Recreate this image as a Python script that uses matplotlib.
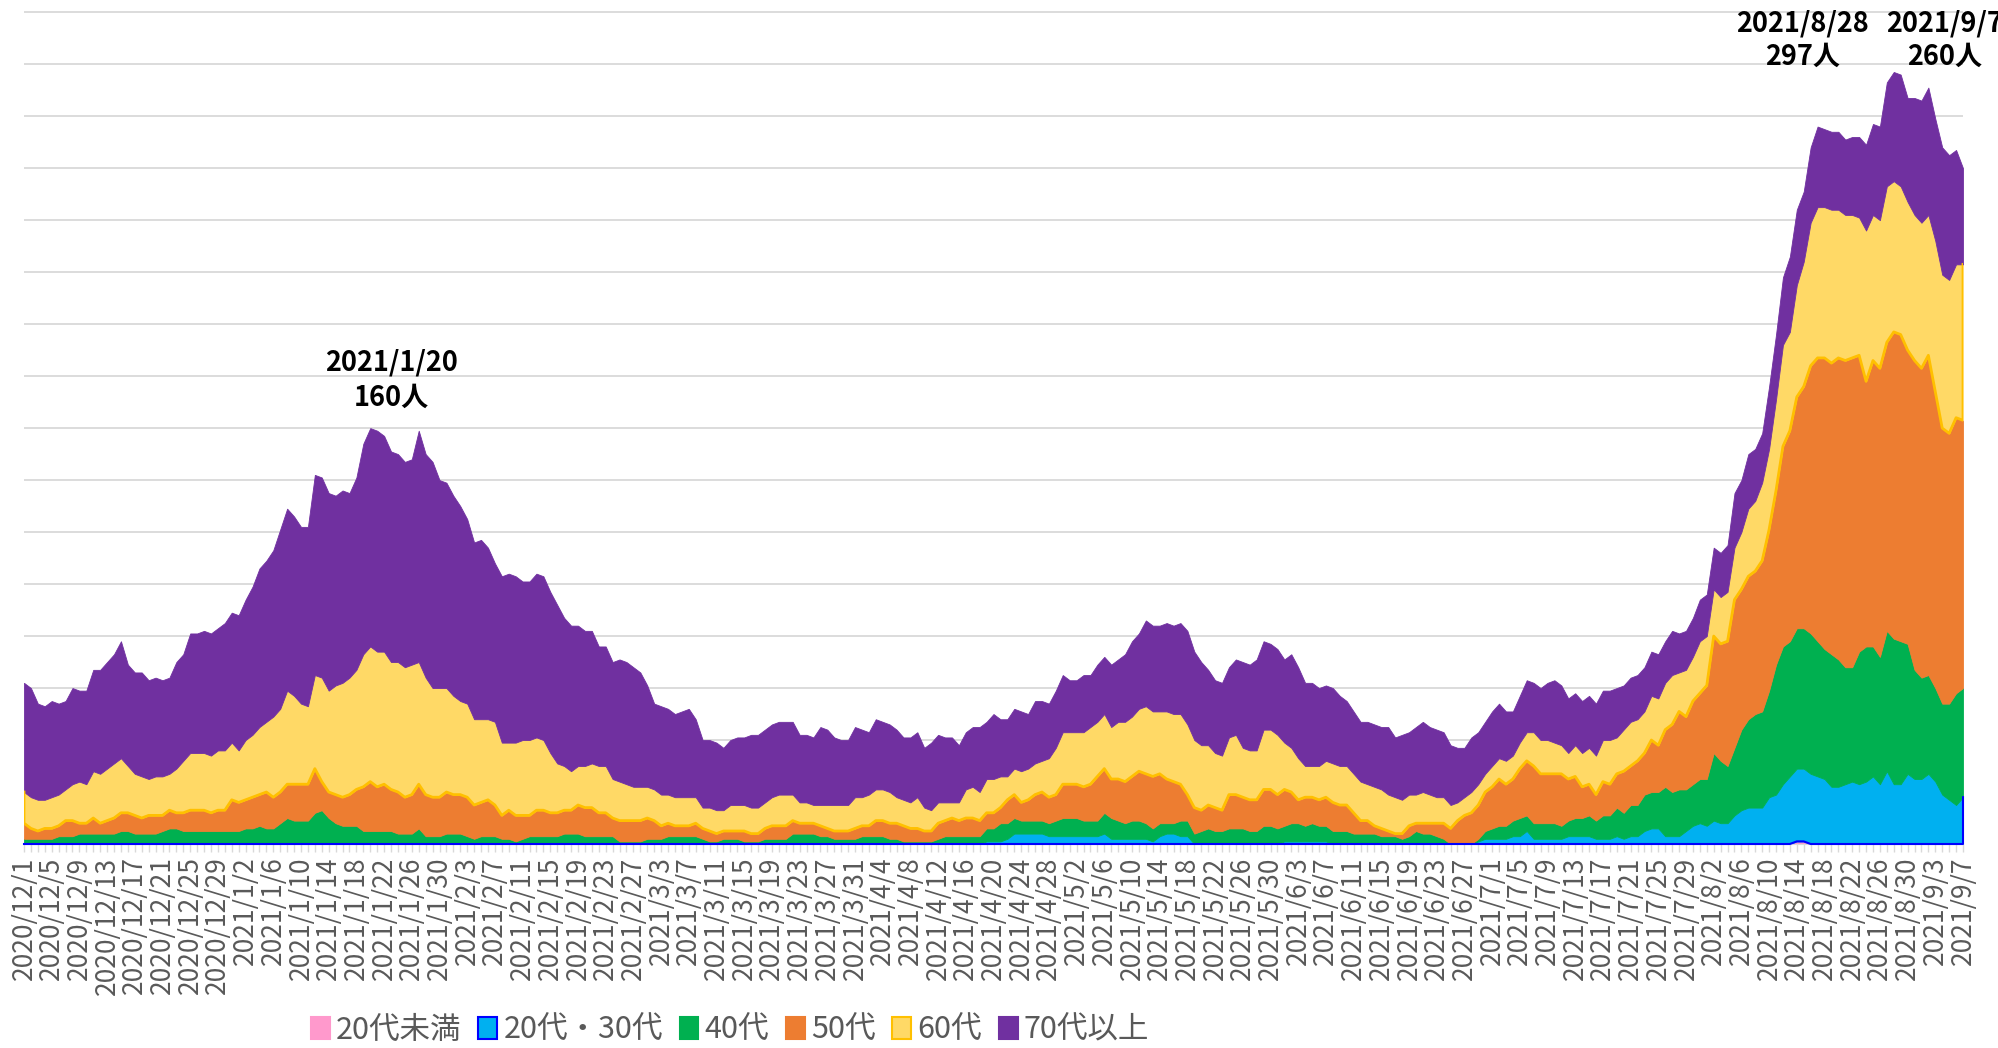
import numpy as np
import pandas as pd
import matplotlib
matplotlib.use("Agg")
import matplotlib.pyplot as plt
from matplotlib.patches import Patch

# Fonts (Japanese text needs a CJK family)
plt.rcParams['font.family'] = ['Noto Sans CJK JP', 'DejaVu Sans']

# Categories: one per day
dates = pd.date_range("2020-12-01", "2021-09-07", freq="D")
date_labels = [f"{d.year}/{d.month}/{d.day}" for d in dates]

# Series values (people per day)
under20 = [0] * 256 + [1, 1] + [0] * 23

age20_30 = ([0] * 139 + [1, 1] +
            [1, 2, 4, 4, 4, 4, 4, 3, 3, 3, 3, 3, 3, 3, 3, 4, 2, 2, 2, 2, 2, 2, 1, 3, 4, 4, 3, 3] +
            [0] * 13 + [1] * 7 + [0] * 8 +
            [0] * 13 + [1, 2, 2, 2, 2, 3, 3, 5, 2, 2, 2, 2, 2, 3, 3] +
            [3, 3, 2, 2, 2, 3, 2, 3, 3, 5, 6, 6, 3, 3, 3, 5, 7, 8, 7, 9, 8, 8, 11, 13, 14, 14, 14] +
            [18, 19, 23, 26, 28, 28, 27, 26, 25, 22, 22, 23, 24, 23, 24, 26, 23, 28, 23, 23, 27, 25, 25, 27, 24, 19, 17, 15, 18])

age40 = [
    2, 2, 2, 2, 2, 3, 3, 3, 4, 4, 4, 4, 4, 4, 5, 5, 4, 4, 4, 4, 5, 6, 6, 5, 5, 5, 5, 5, 5,
    5, 5, 5, 6, 6, 7, 6, 6, 8, 10, 9, 9, 9, 12, 13, 10, 8, 7, 7, 7, 5, 5, 5, 5, 5, 4, 4, 4,
    6, 3, 3, 3, 4, 4, 4, 3, 2, 3, 3, 3, 2, 2, 1, 2, 3, 3, 3, 3, 3, 4, 4, 4, 3, 3, 3, 3,
    3, 1, 1, 1, 1, 2, 2, 2, 3, 3, 3, 3, 3, 2, 1, 1, 2, 2, 2, 1, 1, 1, 2, 2, 2, 2, 4, 4,
    4, 4, 3, 3, 2, 2, 2, 2, 3, 3, 3, 3, 2, 2, 1, 1, 1, 1, 1, 2, 3, 3, 3, 3, 3, 3, 5, 5,
    7, 6, 6, 5, 5, 5, 5, 5, 6, 7, 7, 7, 6, 6, 6, 8, 8, 7, 6, 7, 7, 6, 5, 5, 4, 4, 6, 6,
    4, 5, 6, 5, 5, 6, 6, 6, 5, 5, 7, 7, 6, 6, 7, 7, 6, 7, 6, 6, 5, 5, 5, 4, 4, 4, 4, 3,
    3, 3, 2, 3, 5, 4, 4, 3, 2, 0, 0, 0, 0, 1, 3, 4, 5, 5, 6, 7, 6, 6, 6, 6, 6, 5, 6, 7,
    7, 8, 7, 9, 9, 11, 10, 12, 12, 14, 14, 14, 19, 17, 18, 16, 16, 17, 18, 26, 24, 22, 26, 31, 34, 36, 37,
    41, 50, 53, 52, 54, 54, 54, 52, 50, 51, 49, 45, 44, 51, 52, 50, 49, 54, 56, 55, 50, 42, 39, 38, 36, 35, 37, 43, 42,
]

age50 = [
    6, 4, 3, 4, 4, 4, 6, 6, 4, 4, 6, 4, 5, 6, 7, 7, 7, 6, 7, 7, 6, 7, 6, 7, 8, 8, 8, 7, 8,
    8, 12, 11, 11, 12, 12, 14, 12, 12, 13, 14, 14, 14, 17, 11, 10, 11, 11, 12, 14, 17, 19, 17, 18, 16, 16, 14, 15,
    17, 16, 15, 15, 16, 15, 15, 15, 13, 13, 14, 12, 9, 11, 10, 9, 8, 10, 10, 9, 9, 9, 9, 11, 11, 11, 9, 9,
    7, 8, 8, 8, 8, 8, 7, 5, 5, 4, 4, 4, 5, 4, 4, 3, 3, 3, 3, 4, 3, 3, 4, 5, 5, 5, 5, 4,
    4, 4, 4, 3, 3, 3, 3, 4, 4, 4, 6, 6, 6, 6, 6, 5, 5, 4, 4, 6, 6, 7, 6, 7, 7, 6, 6, 6,
    6, 9, 9, 7, 8, 10, 11, 10, 10, 13, 13, 13, 13, 14, 17, 17, 15, 16, 16, 17, 19, 19, 20, 19, 17, 16, 14, 10,
    10, 8, 9, 9, 8, 13, 13, 12, 12, 12, 14, 14, 13, 14, 12, 9, 11, 10, 10, 11, 11, 10, 10, 8, 5, 5, 3, 3,
    2, 1, 2, 4, 3, 4, 4, 5, 6, 6, 9, 11, 12, 13, 15, 16, 18, 16, 16, 19, 21, 22, 19, 19, 19, 20, 16, 16,
    12, 12, 10, 13, 12, 13, 16, 15, 17, 16, 20, 18, 22, 26, 30, 28, 32, 33, 36, 45, 45, 48, 57, 54, 55, 55, 58,
    62, 67, 77, 81, 89, 93, 103, 109, 112, 112, 116, 118, 119, 114, 102, 110, 111, 111, 118, 118, 113, 119, 119, 123, 114, 106, 104, 106, 103,
]

age60 = [
    12, 12, 12, 11, 12, 12, 12, 14, 16, 15, 18, 19, 20, 21, 21, 18, 16, 16, 14, 15, 15, 14, 17, 20, 22, 22, 22, 22, 23,
    23, 22, 20, 23, 24, 26, 27, 31, 32, 36, 34, 31, 30, 36, 40, 39, 42, 44, 45, 46, 51, 52, 52, 51, 49, 50, 50, 50,
    47, 45, 42, 42, 40, 38, 36, 36, 33, 32, 31, 32, 28, 26, 28, 29, 29, 28, 27, 23, 19, 17, 15, 15, 16, 17, 18, 18,
    15, 15, 14, 13, 13, 12, 12, 12, 11, 11, 11, 11, 10, 8, 9, 9, 8, 10, 10, 10, 10, 10, 10, 11, 12, 12, 10, 8,
    8, 7, 8, 9, 10, 10, 10, 12, 11, 12, 12, 12, 12, 10, 10, 10, 12, 9, 8, 8, 7, 6, 7, 11, 12, 11, 13, 13,
    12, 9, 10, 12, 12, 12, 12, 15, 18, 20, 20, 20, 21, 22, 21, 21, 20, 22, 23, 23, 24, 26, 25, 24, 26, 26, 27, 27,
    26, 25, 23, 21, 21, 22, 23, 19, 19, 19, 23, 23, 23, 18, 17, 16, 12, 12, 13, 14, 15, 15, 15, 15, 15, 14, 15, 15,
    14, 14, 13, 12, 11, 12, 11, 10, 10, 9, 7, 7, 8, 8, 7, 8, 8, 9, 9, 10, 11, 13, 13, 13, 12, 11, 10, 12,
    13, 14, 15, 16, 17, 14, 16, 17, 16, 16, 17, 18, 18, 19, 15, 18, 17, 20, 19, 18, 18, 19, 20, 22, 26, 27, 30,
    31, 35, 39, 38, 43, 48, 55, 58, 58, 59, 57, 56, 55, 53, 58, 56, 57, 60, 58, 57, 57, 56, 56, 54, 58, 59, 59, 59, 60,
]

age70plus = [
    42, 42, 37, 36, 37, 35, 34, 37, 35, 36, 39, 40, 41, 42, 45, 39, 39, 40, 38, 38, 37, 37, 41, 41, 46, 46, 47, 47, 47,
    49, 50, 52, 54, 57, 61, 62, 64, 69, 70, 69, 68, 69, 77, 77, 76, 73, 74, 71, 74, 81, 84, 85, 83, 81, 80, 79, 79,
    89, 86, 87, 80, 79, 77, 75, 71, 68, 69, 66, 61, 64, 65, 64, 61, 61, 63, 63, 62, 61, 57, 56, 54, 52, 51, 46, 46,
    45, 47, 47, 46, 44, 39, 33, 34, 33, 32, 33, 34, 30, 26, 26, 26, 24, 25, 26, 26, 28, 28, 28, 28, 28, 28, 28, 26,
    26, 26, 30, 29, 26, 25, 25, 27, 26, 24, 27, 26, 26, 26, 24, 25, 25, 23, 26, 26, 25, 25, 22, 22, 23, 25, 22, 25,
    22, 22, 23, 23, 21, 24, 23, 21, 22, 22, 20, 20, 22, 20, 22, 22, 24, 24, 26, 29, 29, 33, 33, 33, 34, 34, 35, 36,
    34, 32, 29, 28, 28, 27, 29, 33, 33, 35, 34, 33, 33, 32, 36, 35, 32, 32, 30, 29, 29, 27, 25, 24, 23, 24, 24, 24,
    26, 23, 25, 24, 26, 27, 26, 26, 25, 23, 21, 19, 21, 20, 20, 21, 21, 19, 17, 18, 20, 19, 20, 22, 24, 23, 21, 20,
    20, 20, 20, 19, 19, 19, 17, 17, 17, 17, 17, 17, 16, 17, 15, 15, 15, 16, 16, 16, 17, 18, 21, 20, 21, 20, 19,
    24, 25, 26, 29, 29, 27, 29, 31, 30, 30, 30, 29, 30, 31, 33, 35, 36, 40, 42, 43, 40, 45, 47, 49, 47, 49, 48, 44, 37,
]

series_names = ["20代未満", "20代・30代", "40代", "50代", "60代", "70代以上"]
fill_colors = ["#FF99CC", "#00B0F0", "#00B050", "#ED7D31", "#FFD966", "#7030A0"]
edge_colors = ["#FF99CC", "#0000FF", "#00B050", "#ED7D31", "#FFC000", "#7030A0"]

# Peak labels: (day index, first line, second line)
peak_labels = [(50, "2021/1/20", "160人"), (270, "2021/8/28", "297人"), (280, "2021/9/7", "260人")]

series = [under20, age20_30, age40, age50, age60, age70plus]
x = np.arange(len(dates))
cum = np.cumsum(np.array(series), axis=0)

fig = plt.figure(figsize=(19.99, 10.48), dpi=100)
ax = fig.add_axes([24 / 1999, 1 - 844 / 1048, 1939 / 1999, 837 / 1048])

polys = ax.stackplot(x, *series, colors=fill_colors, linewidth=0.6)
for p, c in zip(polys, fill_colors):
    p.set_edgecolor(c)

# Excel-style outlines that stay visible: bottom edge of 20-30 and of 60
xs = np.concatenate([[x[0]], x, [x[-1]]])
ax.plot(xs, np.concatenate([[cum[1][0]], cum[0], [cum[1][-1]]]),
        color="#0000FF", lw=1.5, zorder=3, clip_on=False)
ax.plot(xs, np.concatenate([[cum[4][0]], cum[3], [cum[4][-1]]]),
        color="#FFC000", lw=2.0, zorder=3)

ax.set_xlim(0, len(dates) - 1)
ax.set_ylim(0, 322)

# Horizontal gridlines every 20, no y labels
ax.set_yticks(range(0, 321, 20))
ax.yaxis.grid(True, color="#D9D9D9", lw=1.3)
ax.set_axisbelow(True)
ax.tick_params(axis="y", left=False, labelleft=False)

# Category axis: tick every day, label every 4th day
ax.set_xticks(x, minor=True)
ax.set_xticks(x[::4], [date_labels[i] for i in x[::4]], rotation=90)
ax.tick_params(axis="x", which="both", length=6, width=1, color="#D9D9D9",
               labelsize=19, labelcolor="#595959", pad=3)

for s in ["top", "left", "right"]:
    ax.spines[s].set_visible(False)
ax.spines["bottom"].set_color("#D9D9D9")

# Peak annotations (manually placed text boxes in the original)
label_pos = {50: (53.1, 185.4, 171.5), 270: (256.8, 315.6, 302.7), 280: (277.3, 315.6, 302.7)}
for day, line1, line2 in peak_labels:
    lx, y1, y2 = label_pos[day]
    ax.text(lx, y1, line1, ha="center", va="center", fontsize=19.5, fontweight="bold", color="black")
    ax.text(lx, y2, line2, ha="center", va="center", fontsize=19.5, fontweight="bold", color="black")

# Legend at the bottom
handles = [Patch(facecolor=f, edgecolor=e, linewidth=1.5) for f, e in zip(fill_colors, edge_colors)]
fig.legend(handles, series_names, loc="center", bbox_to_anchor=(730 / 1999, 1 - 1030 / 1048),
           ncol=6, frameon=False, fontsize=22, handlelength=0.62, handleheight=0.7,
           handletextpad=0.2, columnspacing=0.55, labelcolor="#595959", borderpad=0)

fig.savefig("out.png", dpi=100)
